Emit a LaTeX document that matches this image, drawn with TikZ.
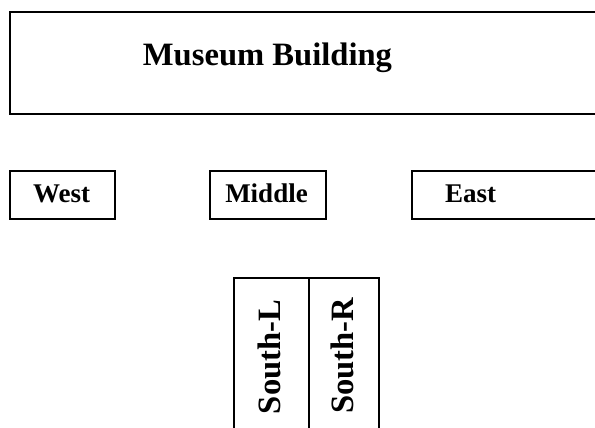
\documentclass[tikz,border=0pt]{standalone}
\usepackage{fontspec}
\setmainfont{Liberation Serif}
\begin{document}
\begin{tikzpicture}[x=1pt,y=-1pt,
	box/.style={draw,line width=1.8pt,inner sep=0pt,anchor=north west},
	big/.style={font=\bfseries\fontsize{32.6}{36}\selectfont},
	small/.style={font=\bfseries\fontsize{27}{30}\selectfont}]
	\useasboundingbox (0,0) rectangle (595,428);
	\clip (0,0) rectangle (595,428);
	
	%Museum Building
	\node[box,minimum width=620pt,minimum height=102pt] (museum) at (9,11) {};
	\node[big,anchor=base] (museumtext) at (267.5,66) {Museum Building};
	
	%Wings
	\node[box,minimum width=105pt,minimum height=48pt] (west) at (9,170) {};
	\node[small,anchor=base] (westtext) at (61.5,202) {West};
	
	\node[box,minimum width=116pt,minimum height=48pt] (middle) at (209,170) {};
	\node[small,anchor=base] (middletext) at (266.5,202) {Middle};
	
	\node[box,minimum width=220pt,minimum height=48pt] (east) at (411,170) {};
	\node[small,anchor=base] (easttext) at (470.5,202) {East};
	
	%South part
	\node[box,minimum width=75pt,minimum height=200pt] (southL) at (233,277) {};
	\node[box,minimum width=70pt,minimum height=200pt] (southR) at (308,277) {};
	\node[big,anchor=base,rotate=90] (southLtext) at (280,357) {South-L};
	\node[big,anchor=base,rotate=90] (southRtext) at (353,356) {South-R};
	
\end{tikzpicture}
\end{document}
